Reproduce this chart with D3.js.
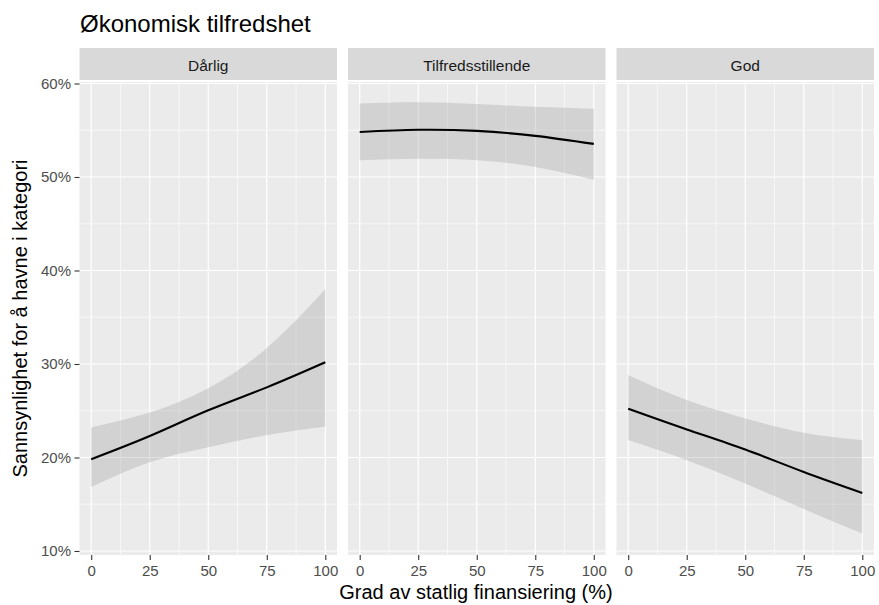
<!DOCTYPE html>
<html><head><meta charset="utf-8">
<script src="https://cdn.jsdelivr.net/npm/d3@7"></script>
<style>body{margin:0;background:#fff}text{font-family:"Liberation Sans",Arial,Helvetica,sans-serif}</style>
</head><body><svg id="c" width="879" height="605"></svg>
<script>
const panels = ["Dårlig", "Tilfredsstillende", "God"];
const xVals = [0, 25, 50, 75, 100];
const fitDarlig = [19.82, 22.3, 25.05, 27.5, 30.18];
const lowDarlig = [16.85, 19.5, 21.1, 22.4, 23.3];
const highDarlig = [23.2, 24.8, 27.4, 31.7, 38.0];
const fitTilf = [54.82, 55.05, 54.93, 54.4, 53.54];
const lowTilf = [51.8, 51.95, 51.8, 51.07, 49.7];
const highTilf = [57.86, 58.0, 57.8, 57.5, 57.29];
const fitGod = [25.21, 23.0, 20.85, 18.45, 16.21];
const lowGod = [21.86, 19.71, 17.21, 14.5, 11.86];
const highGod = [28.82, 26.14, 24.18, 22.64, 21.86];
const xTicks = [0, 25, 50, 75, 100];
const yTicks = [10, 20, 30, 40, 50, 60];
const xMinor = [12.5, 37.5, 62.5, 87.5];
const yMinor = [15, 25, 35, 45, 55];
const title = "Økonomisk tilfredshet";
const xTitle = "Grad av statlig finansiering (%)";
const yTitle = "Sannsynlighet for å havne i kategori";

const series = [
  {fit: fitDarlig, low: lowDarlig, high: highDarlig},
  {fit: fitTilf, low: lowTilf, high: highTilf},
  {fit: fitGod, low: lowGod, high: highGod}
];

const svg = d3.select("#c");
const panelLefts = [79.5, 348, 616.5];
const pw = 257.5;
const pTop = 82, pBottom = 555;
const y = d3.scaleLinear().domain([9.57, 60.16]).range([pBottom, pTop]);

svg.append("text").attr("x", 80).attr("y", 32).attr("font-size", 24).attr("fill", "#000").text(title);

panels.forEach((name, i) => {
  const x0 = panelLefts[i];
  const x = d3.scaleLinear().domain([-5, 105]).range([x0, x0 + pw]);
  const g = svg.append("g");
  g.append("rect").attr("x", x0).attr("y", 48).attr("width", pw).attr("height", 32).attr("fill", "#d9d9d9");
  g.append("text").attr("x", x0 + pw / 2).attr("y", 71).attr("text-anchor", "middle")
    .attr("font-size", 15.5).attr("fill", "#1a1a1a").text(name);
  g.append("rect").attr("x", x0).attr("y", pTop).attr("width", pw).attr("height", pBottom - pTop).attr("fill", "#ebebeb");
  yMinor.forEach(v => g.append("line").attr("x1", x0).attr("x2", x0 + pw).attr("y1", y(v)).attr("y2", y(v)).attr("stroke", "#fff").attr("stroke-width", 0.6));
  xMinor.forEach(v => g.append("line").attr("x1", x(v)).attr("x2", x(v)).attr("y1", pTop).attr("y2", pBottom).attr("stroke", "#fff").attr("stroke-width", 0.6));
  yTicks.forEach(v => g.append("line").attr("x1", x0).attr("x2", x0 + pw).attr("y1", y(v)).attr("y2", y(v)).attr("stroke", "#fff").attr("stroke-width", 1.2));
  xTicks.forEach(v => g.append("line").attr("x1", x(v)).attr("x2", x(v)).attr("y1", pTop).attr("y2", pBottom).attr("stroke", "#fff").attr("stroke-width", 1.2));
  const s = series[i];
  const pts = xVals.map((v, k) => ({x: v, fit: s.fit[k], low: s.low[k], high: s.high[k]}));
  const area = d3.area().x(d => x(d.x)).y0(d => y(d.low)).y1(d => y(d.high)).curve(d3.curveNatural);
  g.append("path").datum(pts).attr("d", area).attr("fill", "#999").attr("fill-opacity", 0.3);
  const line = d3.line().x(d => x(d.x)).y(d => y(d.fit)).curve(d3.curveNatural);
  g.append("path").datum(pts).attr("d", line).attr("fill", "none").attr("stroke", "#000").attr("stroke-width", 2.1);
  const xa = g.append("g").attr("transform", `translate(0,${pBottom})`)
    .call(d3.axisBottom(x).tickValues(xTicks).tickSize(5).tickPadding(5).tickFormat(d3.format("d")));
  xa.select(".domain").remove();
  xa.selectAll("line").attr("stroke", "#333").attr("stroke-width", 1.1);
  xa.selectAll("text").attr("font-size", 15).attr("fill", "#4d4d4d").attr("font-family", '"Liberation Sans",Arial,sans-serif');
});

const ya = svg.append("g").attr("transform", `translate(${panelLefts[0]},0)`)
  .call(d3.axisLeft(y).tickValues(yTicks).tickSize(5).tickPadding(3.5).tickFormat(d => d + "%"));
ya.select(".domain").remove();
ya.selectAll("line").attr("stroke", "#333").attr("stroke-width", 1.1);
ya.selectAll("text").attr("font-size", 15).attr("fill", "#4d4d4d").attr("font-family", '"Liberation Sans",Arial,sans-serif');

svg.append("text").attr("x", 476).attr("y", 599).attr("text-anchor", "middle").attr("font-size", 20).attr("fill", "#000").text(xTitle);
svg.append("text").attr("transform", `translate(27,${(pTop + pBottom) / 2}) rotate(-90)`).attr("text-anchor", "middle")
  .attr("font-size", 20).attr("fill", "#000").text(yTitle);
</script></body></html>
